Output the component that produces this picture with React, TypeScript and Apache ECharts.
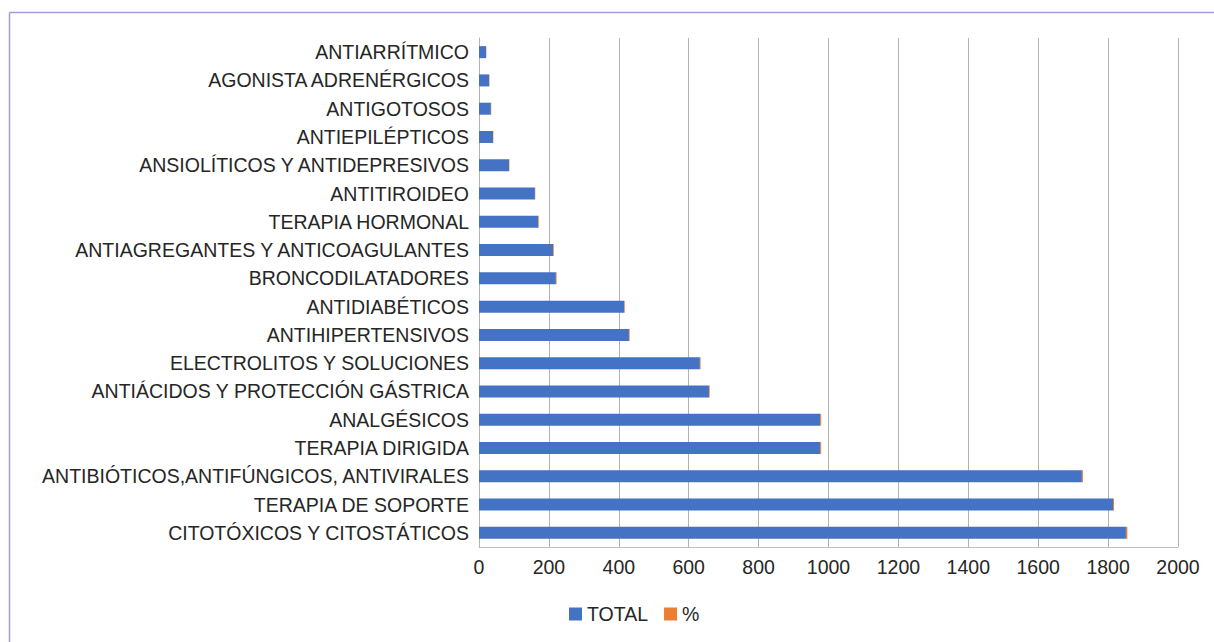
import React, { useEffect, useRef } from "react";
import * as echarts from "echarts";

const categories = [
  "CITOTÓXICOS Y CITOSTÁTICOS",
  "TERAPIA DE SOPORTE",
  "ANTIBIÓTICOS,ANTIFÚNGICOS, ANTIVIRALES",
  "TERAPIA DIRIGIDA",
  "ANALGÉSICOS",
  "ANTIÁCIDOS Y PROTECCIÓN GÁSTRICA",
  "ELECTROLITOS Y SOLUCIONES",
  "ANTIHIPERTENSIVOS",
  "ANTIDIABÉTICOS",
  "BRONCODILATADORES",
  "ANTIAGREGANTES Y ANTICOAGULANTES",
  "TERAPIA HORMONAL",
  "ANTITIROIDEO",
  "ANSIOLÍTICOS Y ANTIDEPRESIVOS",
  "ANTIEPILÉPTICOS",
  "ANTIGOTOSOS",
  "AGONISTA ADRENÉRGICOS",
  "ANTIARRÍTMICO",
];

const totalValues = [1851, 1814, 1725, 976, 976, 658, 632, 429, 415, 220, 212, 169, 160, 86, 40, 34, 29, 20];
const percentValues = [4, 3, 3, 3, 3, 2, 2, 2, 2, 2, 2, 2, 1, 1, 1, 1, 1, 1];

const xTicks = { min: 0, max: 2000, interval: 200 };

export default function App() {
  const ref = useRef<HTMLDivElement>(null);
  useEffect(() => {
    if (!ref.current) return;
    const chart = echarts.init(ref.current, undefined, { renderer: "svg" });
    const font = "'Liberation Sans', Arial, sans-serif";
    chart.setOption({
      animation: false,
      backgroundColor: "#ffffff",
      textStyle: { fontFamily: font },
      grid: { left: 479, right: 36, top: 38, bottom: 95, containLabel: false },
      xAxis: {
        type: "value",
        min: xTicks.min,
        max: xTicks.max,
        interval: xTicks.interval,
        axisLine: { show: true, lineStyle: { color: "#bfbfbf", width: 1 } },
        axisTick: { show: false },
        splitLine: { show: true, lineStyle: { color: "#b3b3b3", width: 1 } },
        axisLabel: {
          color: "#262626",
          fontSize: 19.5,
          fontFamily: font,
          margin: 10,
          formatter: (v: number) => String(v),
        },
      },
      yAxis: {
        type: "category",
        data: categories,
        axisLine: { show: true, lineStyle: { color: "#b3b3b3", width: 1 } },
        axisTick: { show: false },
        splitLine: { show: false },
        axisLabel: { color: "#262626", fontSize: 19.5, fontFamily: font, margin: 10 },
      },
      legend: {
        bottom: 13,
        left: 564,
        itemWidth: 13,
        itemHeight: 13,
        itemGap: 16,
        icon: "rect",
        textStyle: { color: "#262626", fontSize: 19.5, fontFamily: font },
        data: ["TOTAL", "%"],
      },
      series: [
        {
          name: "TOTAL",
          type: "bar",
          stack: "s",
          data: totalValues,
          barWidth: 12,
          itemStyle: { color: "#4472C4" },
        },
        {
          name: "%",
          type: "bar",
          stack: "s",
          data: percentValues,
          barWidth: 12,
          itemStyle: { color: "#ED7D31" },
        },
      ],
      graphic: [
        { type: "line", shape: { x1: 9.5, y1: 12.5, x2: 1214, y2: 12.5 }, style: { stroke: "#9e9ed4", lineWidth: 1.5 } },
        { type: "line", shape: { x1: 9.5, y1: 12.5, x2: 9.5, y2: 642 }, style: { stroke: "#9e9ed4", lineWidth: 1.5 } },
      ],
    });
    return () => chart.dispose();
  }, []);
  return (
    <div
      ref={ref}
      style={{ position: "fixed", left: 0, top: 0, width: 1214, height: 642 }}
    />
  );
}
